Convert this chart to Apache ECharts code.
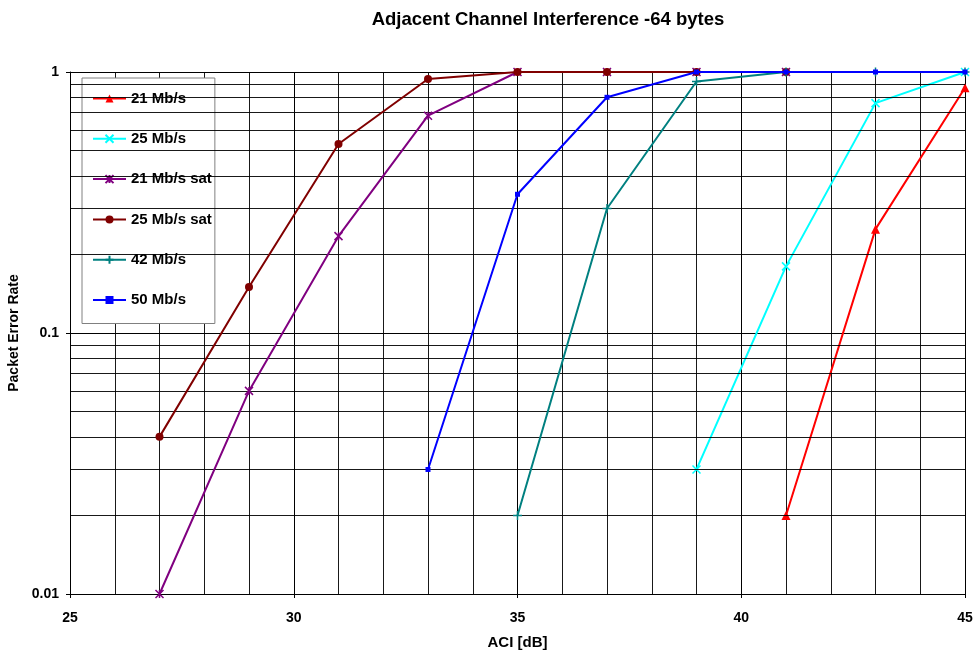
<!DOCTYPE html>
<html><head><meta charset="utf-8">
<script src="https://cdn.jsdelivr.net/npm/echarts@6/dist/echarts.min.js"></script>
<style>html,body{margin:0;padding:0;background:#fff}#c{width:976px;height:654px}</style>
</head><body><div id="c"></div>
<script>
const seriesNames = ['21 Mb/s', '25 Mb/s', '21 Mb/s sat', '25 Mb/s sat', '42 Mb/s', '50 Mb/s'];
const x21 = [41, 43, 45];
const y21 = [0.02, 0.25, 0.87];
const x25 = [39, 41, 43, 45];
const y25 = [0.03, 0.18, 0.76, 1];
const x21sat = [27, 29, 31, 33, 35, 37, 39, 41];
const y21sat = [0.01, 0.06, 0.235, 0.68, 1, 1, 1, 1];
const x25sat = [27, 29, 31, 33, 35, 37, 39, 41];
const y25sat = [0.04, 0.15, 0.53, 0.94, 1, 1, 1, 1];
const x42 = [35, 37, 39, 41, 43, 45];
const y42 = [0.02, 0.3, 0.92, 1, 1, 1];
const x50 = [33, 35, 37, 39, 41, 43, 45];
const y50 = [0.03, 0.34, 0.8, 1, 1, 1, 1];
const minorGridValues = [0.02,0.03,0.04,0.05,0.06,0.07,0.08,0.09,0.2,0.3,0.4,0.5,0.6,0.7,0.8,0.9];

const colors = ['#ff0000', '#00ffff', '#800080', '#800000', '#008080', '#0000ff'];
const symbols = [
  'triangle',
  'path://M0,0L10,10M10,0L0,10',
  'path://M0,0L10,10M10,0L0,10M5,0L5,10',
  'circle',
  'path://M5,0L5,10M0,5L10,5',
  'rect'
];
const symbolSizes = [9, 8, 8, 8, 9, 5];
const xs = [x21, x25, x21sat, x25sat, x42, x50];
const ys = [y21, y25, y21sat, y25sat, y42, y50];

const font = 'Liberation Sans, Arial, sans-serif';
const series = seriesNames.map((n, i) => ({
  name: n, type: 'line',
  data: xs[i].map((x, j) => [x, ys[i][j]]),
  symbol: symbols[i], symbolSize: symbolSizes[i], showAllSymbol: true,
  lineStyle: { color: colors[i], width: 2 },
  itemStyle: { color: colors[i], borderColor: colors[i], borderWidth: symbols[i].startsWith('path') ? 1.5 : 0 },
  z: 3 + i, animation: false
}));
series.unshift({
  name: '_grid', type: 'line', data: [], silent: true, z: 1,
  markLine: {
    silent: true, symbol: ['none', 'none'], animation: false,
    label: { show: false },
    lineStyle: { color: '#000', type: 'solid', width: 1, opacity: 0.9 },
    emphasis: { disabled: true },
    data: minorGridValues.map(v => ({ yAxis: v }))
  }
});

const chart = echarts.init(document.getElementById('c'), null, { renderer: 'canvas' });
chart.setOption({
  backgroundColor: '#fff',
  animation: false,
  title: {
    text: 'Adjacent Channel Interference -64 bytes',
    left: 543, top: 5, textAlign: 'center',
    textStyle: { fontFamily: font, fontSize: 18.5, fontWeight: 'bold', color: '#000' }
  },
  grid: { left: 70, right: 11, top: 72, bottom: 60, containLabel: false, outerBoundsMode: 'none' },
  legend: {
    data: seriesNames, orient: 'vertical', left: 82, top: 78,
    backgroundColor: '#fff', borderColor: '#808080', borderWidth: 1,
    padding: [13, 3, 16, 10], itemGap: 25.3, itemWidth: 33, itemHeight: 10,
    textStyle: { fontFamily: font, fontSize: 15, lineHeight: 15, fontWeight: 'bold', color: '#000' },
    selectedMode: false
  },
  xAxis: {
    type: 'value', min: 25, max: 45, interval: 5,
    name: 'ACI [dB]', nameLocation: 'middle', nameGap: 41,
    nameTextStyle: { fontFamily: font, fontSize: 15, fontWeight: 'bold', color: '#000' },
    axisLine: { show: true, lineStyle: { color: '#000', width: 1 } },
    axisTick: { show: true, length: 4, lineStyle: { color: '#000' } },
    axisLabel: { fontFamily: font, fontSize: 14, fontWeight: 'bold', color: '#000', margin: 17 },
    splitLine: { show: true, lineStyle: { color: '#000', width: 1 } },
    minorTick: { show: false, splitNumber: 5 },
    minorSplitLine: { show: true, lineStyle: { color: '#000', width: 1, opacity: 0.9 } }
  },
  yAxis: {
    type: 'log', logBase: 10, min: 0.01, max: 1,
    name: 'Packet Error Rate', nameLocation: 'middle', nameGap: 43,
    nameTextStyle: { fontFamily: font, fontSize: 14, fontWeight: 'bold', color: '#000' },
    axisLine: { show: true, lineStyle: { color: '#000', width: 1 } },
    axisTick: { show: true, length: 4, lineStyle: { color: '#000' } },
    axisLabel: { fontFamily: font, fontSize: 14, fontWeight: 'bold', color: '#000', margin: 11 },
    splitLine: { show: true, lineStyle: { color: '#000', width: 1 } }
  },
  series: series
});
</script>
</body></html>
